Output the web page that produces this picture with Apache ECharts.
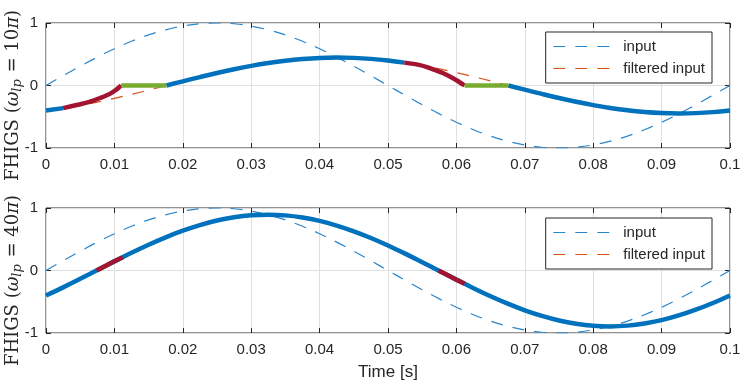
<!DOCTYPE html>
<html>
<head>
<meta charset="utf-8">
<script src="https://cdn.jsdelivr.net/npm/echarts@6/dist/echarts.min.js"></script>
<style>
  html, body { margin: 0; padding: 0; background: #fff; }
  #chart { width: 747px; height: 388px; }
</style>
</head>
<body>
<div id="chart"></div>
<script>
// time samples (s), every 2.5 ms
const t = [0, 0.0025, 0.005, 0.0075, 0.01, 0.0125, 0.015, 0.0175, 0.02, 0.0225, 0.025,
  0.0275, 0.03, 0.0325, 0.035, 0.0375, 0.04, 0.0425, 0.045, 0.0475, 0.05,
  0.0525, 0.055, 0.0575, 0.06, 0.0625, 0.065, 0.0675, 0.07, 0.0725, 0.075,
  0.0775, 0.08, 0.0825, 0.085, 0.0875, 0.09, 0.0925, 0.095, 0.0975, 0.1];
// input sine
const input = [0, 0.156, 0.309, 0.454, 0.588, 0.707, 0.809, 0.891, 0.951, 0.988, 1,
  0.988, 0.951, 0.891, 0.809, 0.707, 0.588, 0.454, 0.309, 0.156, 0,
  -0.156, -0.309, -0.454, -0.588, -0.707, -0.809, -0.891, -0.951, -0.988, -1,
  -0.988, -0.951, -0.891, -0.809, -0.707, -0.588, -0.454, -0.309, -0.156, 0];
// filtered input, w_lp = 10pi
const filtered10 = [-0.400, -0.364, -0.318, -0.265, -0.206, -0.141, -0.073, -0.003, 0.067, 0.135, 0.200,
  0.260, 0.314, 0.360, 0.397, 0.424, 0.441, 0.447, 0.442, 0.426, 0.400,
  0.364, 0.318, 0.265, 0.206, 0.141, 0.073, 0.003, -0.067, -0.135, -0.200,
  -0.260, -0.314, -0.360, -0.397, -0.424, -0.441, -0.447, -0.442, -0.426, -0.400];
// filtered input, w_lp = 40pi
const filtered40 = [-0.400, -0.270, -0.133, 0.007, 0.146, 0.283, 0.412, 0.531, 0.637, 0.727, 0.800,
  0.852, 0.884, 0.894, 0.882, 0.848, 0.794, 0.719, 0.627, 0.520, 0.400,
  0.270, 0.133, -0.007, -0.146, -0.283, -0.412, -0.531, -0.637, -0.727, -0.800,
  -0.852, -0.884, -0.894, -0.882, -0.848, -0.794, -0.719, -0.627, -0.520, -0.400];

// FHIGS output pieces, top plot
const topBlue = [
  [[0, -0.400], [0.0025, -0.362]],
  [[0.0176, 0], [0.02, 0.067], [0.0225, 0.135], [0.025, 0.200], [0.0275, 0.260], [0.03, 0.314],
   [0.0325, 0.360], [0.035, 0.397], [0.0375, 0.424], [0.04, 0.441], [0.0425, 0.447], [0.045, 0.442],
   [0.0475, 0.426], [0.05, 0.400], [0.0524, 0.366]],
  [[0.0676, 0], [0.07, -0.067], [0.0725, -0.135], [0.075, -0.200], [0.0775, -0.260], [0.08, -0.314],
   [0.0825, -0.360], [0.085, -0.397], [0.0875, -0.424], [0.09, -0.441], [0.0925, -0.447], [0.095, -0.442],
   [0.0975, -0.426], [0.1, -0.400]]
];
const topRed = [
  [[0.0025, -0.362], [0.005, -0.30], [0.0062, -0.265], [0.0074, -0.22], [0.0084, -0.18],
   [0.0094, -0.13], [0.0102, -0.072], [0.011, 0]],
  [[0.0524, 0.366], [0.0545, 0.33], [0.0557, 0.295], [0.0568, 0.25], [0.058, 0.20],
   [0.0591, 0.14], [0.0602, 0.072], [0.0612, 0]]
];
const topGreen = [
  [[0.011, 0], [0.0176, 0]],
  [[0.0612, 0], [0.0676, 0]]
];
// FHIGS output pieces, bottom plot (blue = filtered40)
const bottomRed = [
  [[0.0074, 0], [0.0093, 0.108], [0.0112, 0.213]],
  [[0.0574, 0], [0.0593, -0.108], [0.0612, -0.213]]
];

const xTicks = ['0', '0.01', '0.02', '0.03', '0.04', '0.05', '0.06', '0.07', '0.08', '0.09', '0.1'];
const yTicks = ['-1', '0', '1'];

const AX = '#262626';
const BLUE = '#0072BD';
const DASHBLUE = '#2a86cc';
const ORANGE = '#D95319';
const RED = '#A2142F';
const GREEN = '#77AC30';

const zip = (xs, ys) => xs.map((x, i) => [x, ys[i]]);

function line(name, data, idx, color, width, dashed, smooth) {
  return {
    name: name,
    type: 'line',
    xAxisIndex: idx * 2,
    yAxisIndex: idx * 2,
    data: data,
    symbol: 'none',
    showSymbol: false,
    smooth: smooth === undefined ? 0.4 : smooth,
    silent: true,
    animation: false,
    itemStyle: { color: color },
    lineStyle: { color: color, width: width, type: dashed ? [12, 10] : 'solid', cap: 'butt' }
  };
}

const grids = [
  { left: 46, right: 17, top: 23, height: 125 },
  { left: 46, right: 17, top: 208, height: 125 }
];

const tick = { inside: true, length: 5, lineStyle: { color: AX } };
const noLine = { show: false, onZero: false };

const xAxis = [];
const yAxis = [];
grids.forEach((g, i) => {
  xAxis.push({
    type: 'value', gridIndex: i, position: 'bottom', min: 0, max: 0.1, interval: 0.01,
    axisLine: noLine,
    axisTick: tick,
    axisLabel: {
      color: AX, fontSize: 15, fontFamily: 'Liberation Sans', margin: 9,
      formatter: (v) => xTicks[Math.round(v * 100)]
    },
    splitLine: { show: true, lineStyle: { color: '#dfdfdf', width: 1 } },
    name: i === 1 ? 'Time [s]' : '',
    nameLocation: 'middle', nameGap: 31, nameMoveOverlap: false,
    nameTextStyle: { color: AX, fontSize: 17, fontFamily: 'Liberation Sans' }
  });
  xAxis.push({
    type: 'value', gridIndex: i, position: 'top', min: 0, max: 0.1, interval: 0.01,
    axisLine: noLine,
    axisTick: tick,
    axisLabel: { show: false }, splitLine: { show: false }
  });
  yAxis.push({
    type: 'value', gridIndex: i, position: 'left', min: -1, max: 1, interval: 1,
    axisLine: noLine,
    axisTick: tick,
    axisLabel: {
      color: AX, fontSize: 15, fontFamily: 'Liberation Sans', margin: 8,
      formatter: (v) => yTicks[Math.round(v) + 1]
    },
    splitLine: { show: true, lineStyle: { color: '#dfdfdf', width: 1 } },
    name: '{r|FHIGS (}{i|ω}{s|lp}{r| = ' + (i === 0 ? '10' : '40') + '}{i|π}{r|)}',
    nameLocation: 'middle', nameRotate: 90, nameGap: 22, nameMoveOverlap: false,
    nameTextStyle: {
      color: AX,
      padding: [0, 20, 0, 0],
      rich: {
        r: { fontFamily: 'DejaVu Serif', fontSize: 18, color: AX },
        i: { fontFamily: 'DejaVu Serif', fontSize: 18, fontStyle: 'italic', color: AX },
        s: { fontFamily: 'DejaVu Serif', fontSize: 13, fontStyle: 'italic', color: AX,
             verticalAlign: 'top', padding: [8, 1, 0, 0] }
      }
    }
  });
  yAxis.push({
    type: 'value', gridIndex: i, position: 'right', min: -1, max: 1, interval: 1,
    axisLine: noLine,
    axisTick: tick,
    axisLabel: { show: false }, splitLine: { show: false }
  });
});

const series = [
  line('input', zip(t, input), 0, DASHBLUE, 1.2, true),
  line('filtered input', zip(t, filtered10), 0, ORANGE, 1.2, true),
  line('input', zip(t, input), 1, DASHBLUE, 1.2, true),
  line('filtered input', zip(t, filtered40), 1, ORANGE, 1.2, true),
  line('fhigs', zip(t, filtered40), 1, BLUE, 4.5, false)
];
topBlue.forEach((d) => series.push(line('fhigs', d, 0, BLUE, 4.5, false)));
topRed.forEach((d) => series.push(line('reset', d, 0, RED, 4.5, false, 0.25)));
topGreen.forEach((d) => series.push(line('hold', d, 0, GREEN, 4.5, false)));
bottomRed.forEach((d) => series.push(line('reset', d, 1, RED, 4.5, false)));

const legendBase = {
  data: ['input', 'filtered input'],
  orient: 'vertical',
  right: 35,
  itemWidth: 65,
  itemHeight: 14,
  itemGap: 7,
  padding: [7, 7, 7, 7],
  backgroundColor: '#fff',
  borderColor: AX,
  borderWidth: 1,
  borderRadius: 0,
  selectedMode: false,
  itemStyle: { opacity: 0 },
  lineStyle: { width: 1.2 },
  textStyle: { color: AX, fontSize: 15, fontFamily: 'Liberation Sans' }
};

const chart = echarts.init(document.getElementById('chart'));
chart.setOption({
  animation: false,
  backgroundColor: '#fff',
  grid: grids.map((g) => Object.assign({
    show: true, borderColor: AX, borderWidth: 1, backgroundColor: 'transparent',
    containLabel: false, outerBoundsMode: 'none'
  }, g)),
  xAxis: xAxis,
  yAxis: yAxis,
  legend: [
    Object.assign({ top: 32 }, legendBase),
    Object.assign({ top: 218 }, legendBase)
  ],
  series: series
});
</script>
</body>
</html>
